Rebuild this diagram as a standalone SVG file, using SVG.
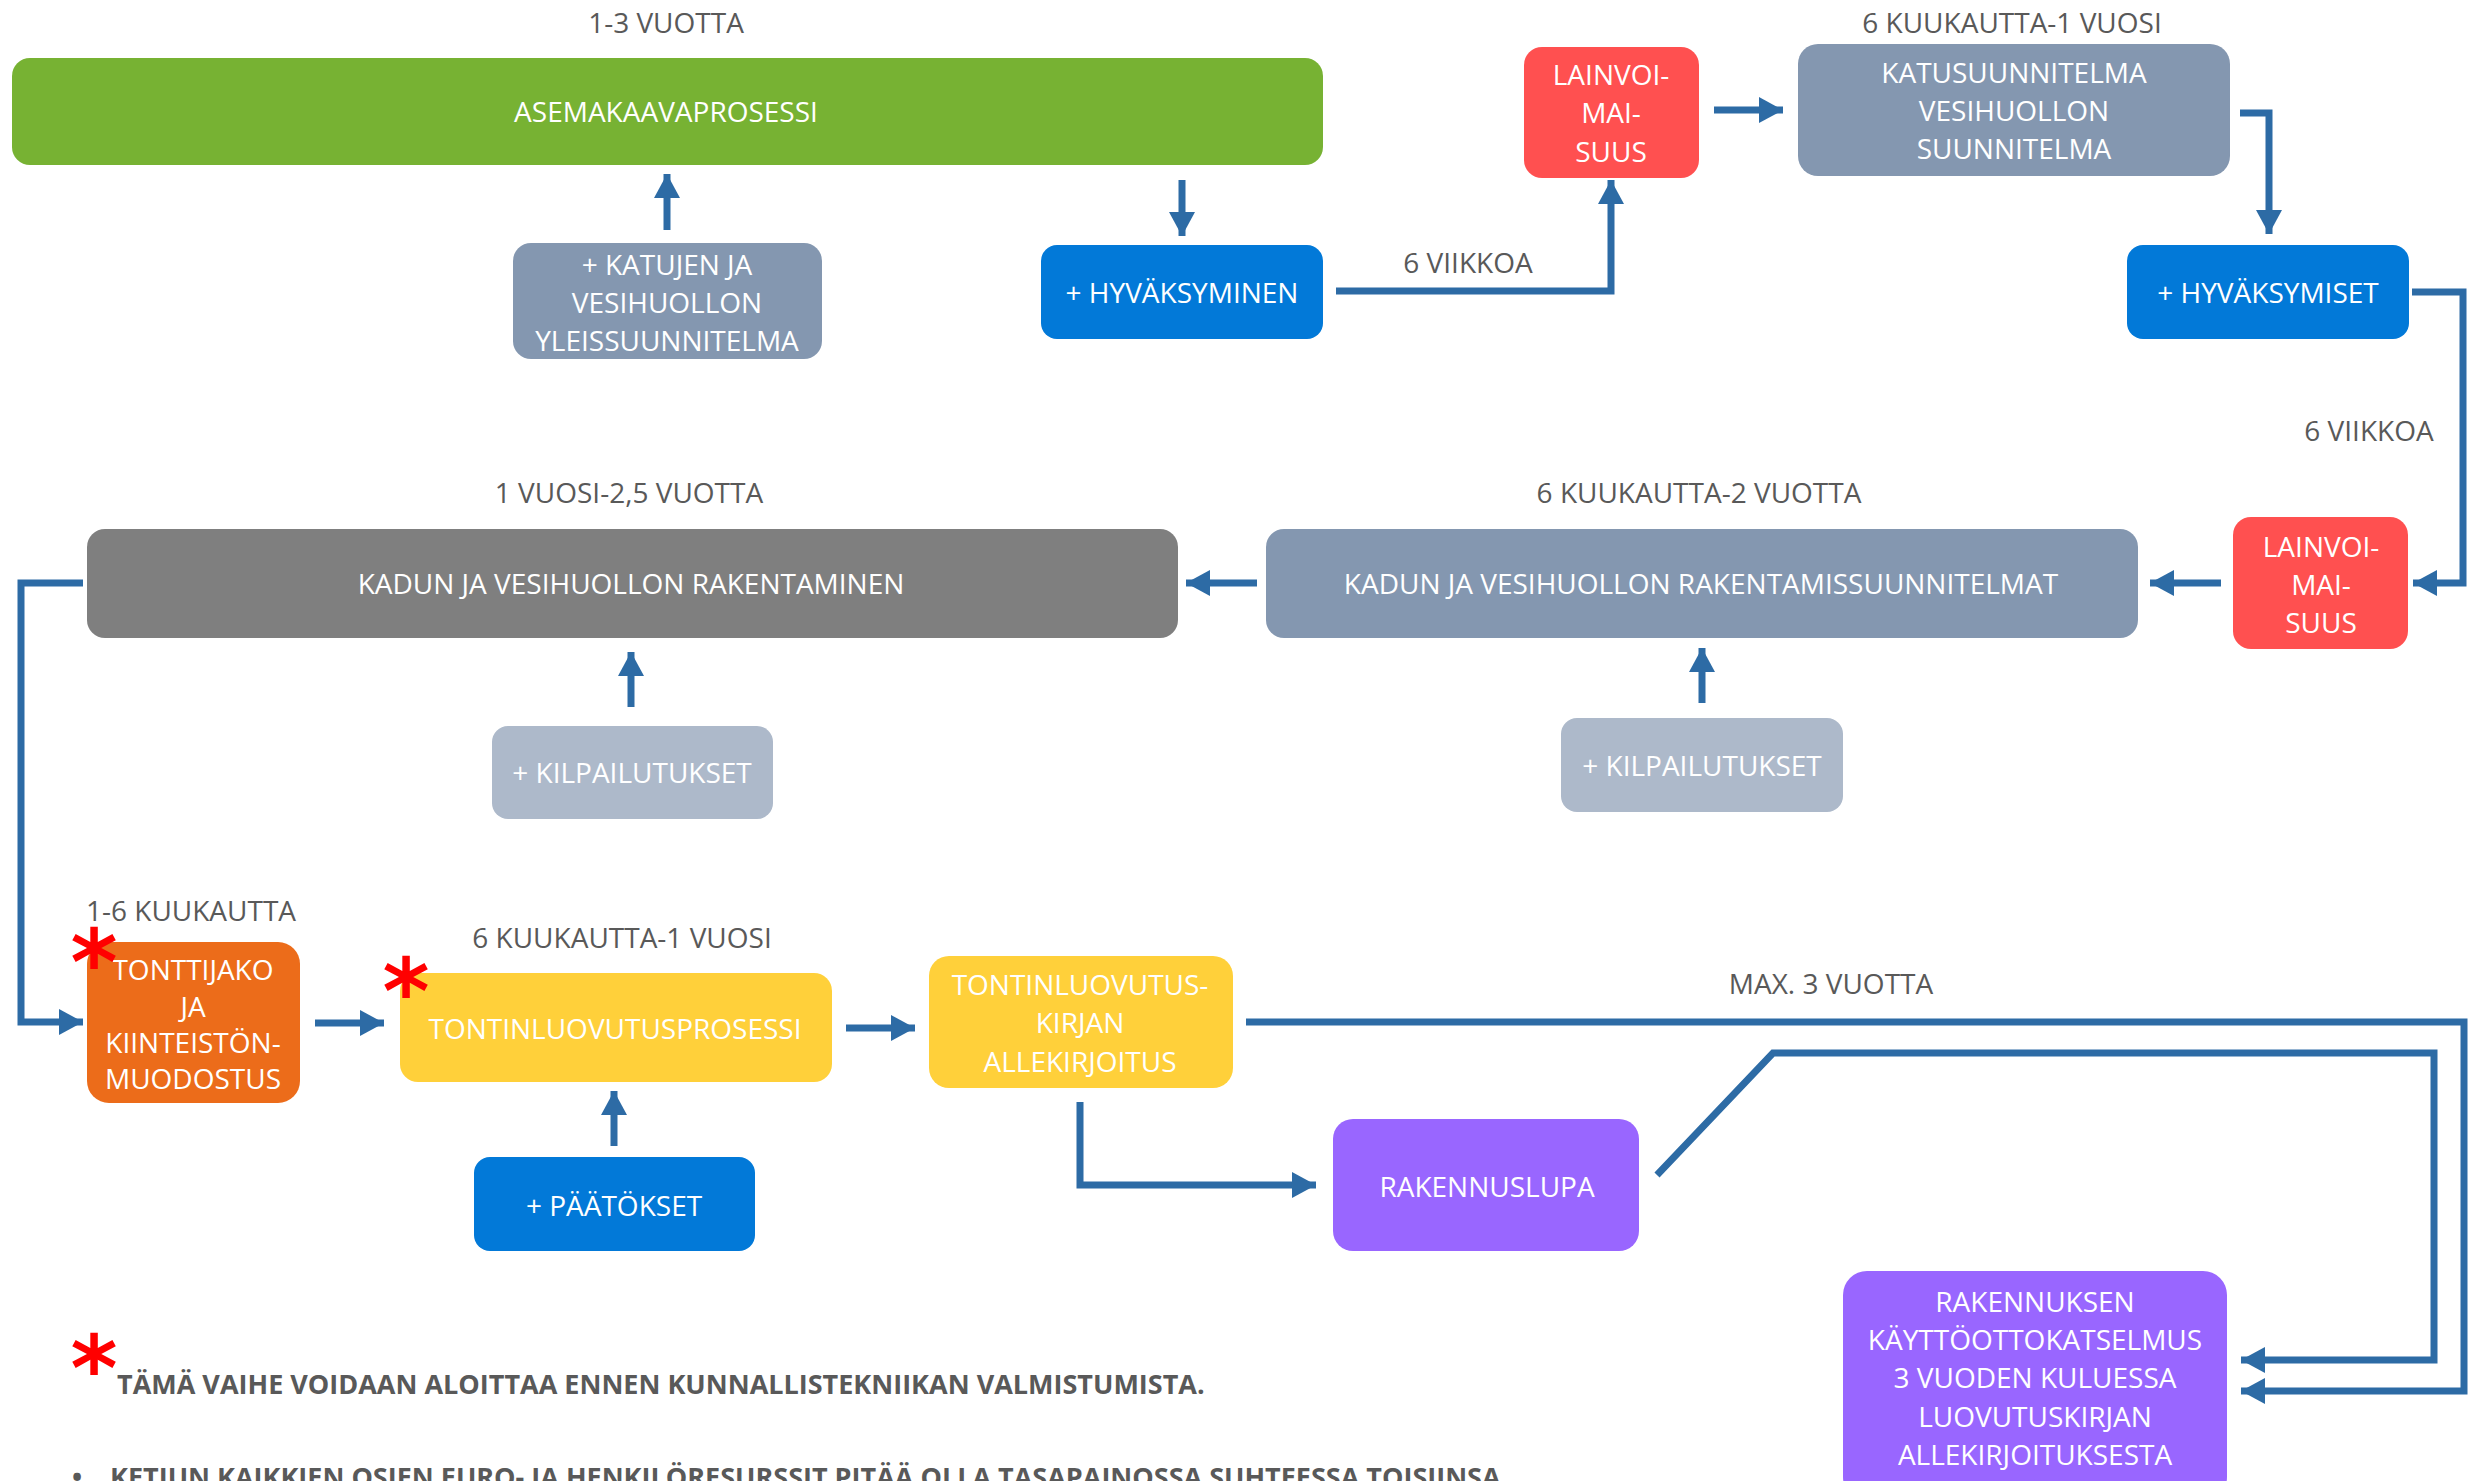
<svg xmlns="http://www.w3.org/2000/svg" width="2468" height="1481" viewBox="0 0 2468 1481">
<style>
text{font-family:"Open Sans","Liberation Sans",sans-serif;font-size:28px}
.w{fill:#ffffff;text-anchor:middle}
.l{fill:#595959;text-anchor:middle}
.c{fill:none;stroke:#2D6BA5;stroke-width:7;marker-end:url(#ah)}
.ast{fill:#FF0000;font-family:"DejaVu Sans",sans-serif;font-weight:bold;font-size:90px;text-anchor:middle}
.ft{fill:#595959;font-weight:bold;font-size:27px}
</style>
<defs>
<marker id="ah" viewBox="0 0 24 26" refX="24" refY="13" markerWidth="24" markerHeight="26" markerUnits="userSpaceOnUse" orient="auto">
<path d="M0,0 L24,13 L0,26 z" fill="#2D6BA5"/>
</marker>
</defs>
<rect width="2468" height="1481" fill="#ffffff"/>

<g id="labels">
<text class="l" x="666" y="33">1-3 VUOTTA</text>
<text class="l" x="2012" y="33">6 KUUKAUTTA-1 VUOSI</text>
<text class="l" x="1468" y="273">6 VIIKKOA</text>
<text class="l" x="2369" y="441">6 VIIKKOA</text>
<text class="l" x="629" y="503">1 VUOSI-2,5 VUOTTA</text>
<text class="l" x="1699" y="503">6 KUUKAUTTA-2 VUOTTA</text>
<text class="l" x="191" y="921">1-6 KUUKAUTTA</text>
<text class="l" x="622" y="948">6 KUUKAUTTA-1 VUOSI</text>
<text class="l" x="1831" y="994">MAX. 3 VUOTTA</text>
</g>

<g id="connectors">
<path class="c" d="M667,230 L667,174"/>
<path class="c" d="M1182,180 L1182,236"/>
<path class="c" d="M1336,291 L1611,291 L1611,180"/>
<path class="c" d="M1714,110 L1783,110"/>
<path class="c" d="M2240,113 L2269,113 L2269,234"/>
<path class="c" d="M2412,292 L2463,292 L2463,583 L2413,583"/>
<path class="c" d="M2221,583 L2150,583"/>
<path class="c" d="M1257,583 L1186,583"/>
<path class="c" d="M1702,703 L1702,648"/>
<path class="c" d="M631,707 L631,652"/>
<path class="c" d="M83,583 L21,583 L21,1022 L83,1022"/>
<path class="c" d="M315,1023 L384,1023"/>
<path class="c" d="M614,1146 L614,1091"/>
<path class="c" d="M846,1028 L915,1028"/>
<path class="c" d="M1080,1102 L1080,1185 L1316,1185"/>
<path class="c" d="M1657,1175 L1773,1053 L2434,1053 L2434,1360 L2241,1360"/>
<path class="c" d="M1246,1022 L2464,1022 L2464,1391 L2241,1391"/>
</g>

<g id="asemakaava">
<rect x="12" y="58" width="1311" height="107" rx="18" fill="#77B233"/>
<text class="w" x="666" y="122">ASEMAKAAVAPROSESSI</text>
</g>
<g id="yleissuunnitelma">
<rect x="513" y="243" width="309" height="116" rx="18" fill="#8497B0"/>
<text class="w" x="667" y="275">+ KATUJEN JA</text>
<text class="w" x="667" y="313">VESIHUOLLON</text>
<text class="w" x="667" y="351">YLEISSUUNNITELMA</text>
</g>
<g id="hyvaksyminen">
<rect x="1041" y="245" width="282" height="94" rx="16" fill="#0279D8"/>
<text class="w" x="1182" y="303">+ HYVÄKSYMINEN</text>
</g>
<g id="lainvoimaisuus1">
<rect x="1524" y="47" width="175" height="131" rx="18" fill="#FF5050"/>
<text class="w" x="1611" y="85">LAINVOI-</text>
<text class="w" x="1611" y="123">MAI-</text>
<text class="w" x="1611" y="162">SUUS</text>
</g>
<g id="katusuunnitelma">
<rect x="1798" y="44" width="432" height="132" rx="20" fill="#8497B0"/>
<text class="w" x="2014" y="83">KATUSUUNNITELMA</text>
<text class="w" x="2014" y="121">VESIHUOLLON</text>
<text class="w" x="2014" y="159">SUUNNITELMA</text>
</g>
<g id="hyvaksymiset">
<rect x="2127" y="245" width="282" height="94" rx="16" fill="#0279D8"/>
<text class="w" x="2268" y="303">+ HYVÄKSYMISET</text>
</g>
<g id="lainvoimaisuus2">
<rect x="2233" y="517" width="175" height="132" rx="18" fill="#FF5050"/>
<text class="w" x="2321" y="557">LAINVOI-</text>
<text class="w" x="2321" y="595">MAI-</text>
<text class="w" x="2321" y="633">SUUS</text>
</g>
<g id="rakentamissuunnitelmat">
<rect x="1266" y="529" width="872" height="109" rx="18" fill="#8497B0"/>
<text class="w" x="1701" y="594">KADUN JA VESIHUOLLON RAKENTAMISSUUNNITELMAT</text>
</g>
<g id="kilpailutukset2">
<rect x="1561" y="718" width="282" height="94" rx="16" fill="#ADB9CA"/>
<text class="w" x="1702" y="776">+ KILPAILUTUKSET</text>
</g>
<g id="rakentaminen">
<rect x="87" y="529" width="1091" height="109" rx="18" fill="#7F7F7F"/>
<text class="w" x="631" y="594">KADUN JA VESIHUOLLON RAKENTAMINEN</text>
</g>
<g id="kilpailutukset1">
<rect x="492" y="726" width="281" height="93" rx="16" fill="#ADB9CA"/>
<text class="w" x="632" y="783">+ KILPAILUTUKSET</text>
</g>
<g id="tonttijako">
<rect x="87" y="942" width="213" height="161" rx="22" fill="#EC6C1A"/>
<text class="w" x="193" y="980">TONTTIJAKO</text>
<text class="w" x="193" y="1017">JA</text>
<text class="w" x="193" y="1053">KIINTEISTÖN-</text>
<text class="w" x="193" y="1089">MUODOSTUS</text>
<text class="ast" x="94" y="994">*</text>
</g>
<g id="tontinluovutusprosessi">
<rect x="400" y="973" width="432" height="109" rx="18" fill="#FFD03A"/>
<text class="w" x="615" y="1039">TONTINLUOVUTUSPROSESSI</text>
<text class="ast" x="406" y="1023">*</text>
</g>
<g id="paatokset">
<rect x="474" y="1157" width="281" height="94" rx="16" fill="#0279D8"/>
<text class="w" x="614" y="1216">+ PÄÄTÖKSET</text>
</g>
<g id="tontinluovutuskirjan">
<rect x="929" y="956" width="304" height="132" rx="20" fill="#FFD03A"/>
<text class="w" x="1080" y="995">TONTINLUOVUTUS-</text>
<text class="w" x="1080" y="1033">KIRJAN</text>
<text class="w" x="1080" y="1072">ALLEKIRJOITUS</text>
</g>
<g id="rakennuslupa">
<rect x="1333" y="1119" width="306" height="132" rx="20" fill="#9966FF"/>
<text class="w" x="1487" y="1197">RAKENNUSLUPA</text>
</g>
<g id="kayttoonotto">
<rect x="1843" y="1271" width="384" height="230" rx="24" fill="#9966FF"/>
<text class="w" x="2035" y="1312">RAKENNUKSEN</text>
<text class="w" x="2035" y="1350">KÄYTTÖOTTOKATSELMUS</text>
<text class="w" x="2035" y="1388">3 VUODEN KULUESSA</text>
<text class="w" x="2035" y="1427">LUOVUTUSKIRJAN</text>
<text class="w" x="2035" y="1465">ALLEKIRJOITUKSESTA</text>
</g>

<g id="footer">
<text class="ast" x="94" y="1400">*</text>
<text class="ft" x="117" y="1394">TÄMÄ VAIHE VOIDAAN ALOITTAA ENNEN KUNNALLISTEKNIIKAN VALMISTUMISTA.</text>
<text class="ft" x="72" y="1487">•</text>
<text class="ft" x="110" y="1487">KETJUN KAIKKIEN OSIEN EURO- JA HENKILÖRESURSSIT PITÄÄ OLLA TASAPAINOSSA SUHTEESSA TOISIINSA</text>
</g>
</svg>
